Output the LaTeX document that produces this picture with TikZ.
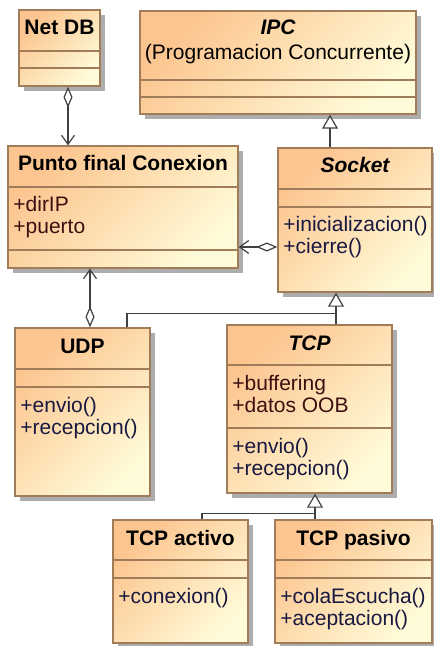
\documentclass[tikz,border=0pt]{standalone}
\usepackage{fontspec}
\setmainfont{Liberation Sans}
\usetikzlibrary{calc,fit,shadows,arrows.meta}

\definecolor{umlorange}{RGB}{252,196,142}
\definecolor{umlyellow}{RGB}{255,251,216}
\definecolor{umlborder}{RGB}{160,124,88}
\definecolor{linegray}{RGB}{64,64,64}
\definecolor{attrcol}{RGB}{60,16,16}
\definecolor{opcol}{RGB}{24,24,64}

\tikzset{
  classbox/.style={draw=umlborder, line width=0.7pt, inner sep=0pt,
    top color=umlorange, bottom color=umlyellow, shading angle=45,
    drop shadow={shadow xshift=2.5pt, shadow yshift=-2.5pt, fill=black!32, opacity=1}},
  classline/.style={draw=umlborder, line width=0.7pt},
  ctitle/.style={inner sep=0pt, anchor=base, font=\bfseries},
  cabstract/.style={inner sep=0pt, anchor=base, font=\bfseries\itshape},
  cattr/.style={inner sep=0pt, anchor=base west, text=attrcol},
  cop/.style={inner sep=0pt, anchor=base west, text=opcol},
  aggr/.style={draw=linegray, line width=0.6pt,
    {Diamond[open, fill=white, length=10.5pt, width=4.5pt]}-{Straight Barb[length=4.5pt, width=6.5pt]}},
  gen/.style={draw=linegray, line width=0.6pt,
    -{Triangle[open, fill=white, length=7pt, width=8pt]}},
  inh/.style={draw=linegray, line width=0.6pt}
}
% class box: name, corners, y of the two dividers
\def\umlclass(#1)(#2,#3)(#4,#5)(#6,#7){%
  \node[classbox, fit={(#2,#3)(#4,#5)}] (#1) {};
  \draw[classline] (#2,#6) -- (#4,#6);
  \draw[classline] (#2,#7) -- (#4,#7);}

\begin{document}
\begin{tikzpicture}[x=0.5pt, y=-0.5pt]
  \fontsize{10.5}{11}\selectfont
  \useasboundingbox (0,0) rectangle (433,646);

  %%%%% classes %%%%%
  \umlclass(netdb)(19,10)(100,86)(51,68)
  \node[ctitle] (netdb-t) at (59.5,35) {Net DB};

  \umlclass(ipc)(140,11)(416,114)(80,97)
  \node[cabstract] (ipc-t) at (278,35) {IPC};
  \node[inner sep=0pt, anchor=base] (ipc-s) at (278,60) {(Programacion Concurrente)};

  \umlclass(pfc)(8,146)(238,268)(187,250)
  \node[ctitle] (pfc-t) at (123,171) {Punto final Conexion};
  \node[cattr] (pfc-a1) at (13,212) {+dirIP};
  \node[cattr] (pfc-a2) at (13,234) {+puerto};

  \umlclass(socket)(278,148)(432,292)(189,207)
  \node[cabstract] (socket-t) at (355,173) {Socket};
  \node[cop] (socket-o1) at (283,232) {+inicializacion()};
  \node[cop] (socket-o2) at (283,254) {+cierre()};

  \umlclass(udp)(15,328)(150,496)(369,387)
  \node[ctitle] (udp-t) at (82.5,353) {UDP};
  \node[cop] (udp-o1) at (20,412) {+envio()};
  \node[cop] (udp-o2) at (20,434) {+recepcion()};

  \umlclass(tcp)(227,325)(392,493)(365,428)
  \node[cabstract] (tcp-t) at (309.5,350) {TCP};
  \node[cattr] (tcp-a1) at (232,390) {+buffering};
  \node[cattr] (tcp-a2) at (232,412) {+datos OOB};
  \node[cop] (tcp-o1) at (232,453) {+envio()};
  \node[cop] (tcp-o2) at (232,475) {+recepcion()};

  \umlclass(tcpactivo)(113,520)(248,643)(560,578)
  \node[ctitle] (tcpactivo-t) at (180.5,545) {TCP activo};
  \node[cop] (tcpactivo-o1) at (118,603) {+conexion()};

  \umlclass(tcppasivo)(275,520)(432,643)(560,578)
  \node[ctitle] (tcppasivo-t) at (353.5,545) {TCP pasivo};
  \node[cop] (tcppasivo-o1) at (280,603) {+colaEscucha()};
  \node[cop] (tcppasivo-o2) at (280,625) {+aceptacion()};

  %%%%% relations %%%%%
  \coordinate (c1) at ($(netdb.south)+(8.5,0)$);
  \draw[aggr] (c1) -- (c1 |- pfc.north);

  \coordinate (c2) at ($(socket.west)+(0,27)$);
  \draw[aggr] (c2) -- (c2 -| pfc.east);

  \coordinate (c3) at ($(udp.north)+(7.5,0)$);
  \draw[aggr] (c3) -- (c3 |- pfc.south);

  \coordinate (c4) at ($(socket.north)+(-25,0)$);
  \draw[gen] (c4) -- (c4 |- ipc.south);

  \coordinate (c5) at ($(tcp.north)+(26.5,0)$);
  \coordinate (c6) at ($(udp.north)+(44.5,0)$);
  \draw[inh] (c6) |- ($(c5)+(0,-11)$);
  \draw[gen] (c5) -- (c5 |- socket.south);

  \coordinate (c7) at ($(tcpactivo.north)+(21.5,0)$);
  \coordinate (c8) at ($(tcppasivo.north)+(-38.5,0)$);
  \draw[inh] (c7) |- ($(c8)+(0,-6)$);
  \draw[gen] (c8) -- (c8 |- tcp.south);
\end{tikzpicture}
\end{document}
